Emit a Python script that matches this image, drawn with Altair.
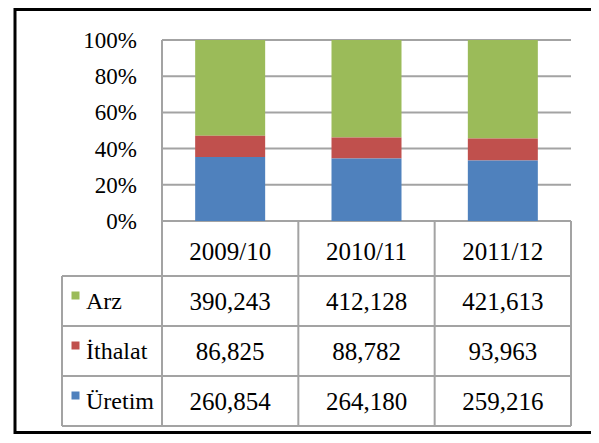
import altair as alt
import pandas as pd

# ---- data ----
categories = ["2009/10", "2010/11", "2011/12"]
series = ["Arz", "İthalat", "Üretim"]
arz = [390243, 412128, 421613]
ithalat = [86825, 88782, 93963]
uretim = [260854, 264180, 259216]
y_ticks = [0, 0.2, 0.4, 0.6, 0.8, 1.0]
colors = ["#9BBB59", "#C0504D", "#4F81BD"]

values = {"Arz": arz, "İthalat": ithalat, "Üretim": uretim}
stack_rank = {"Üretim": 0, "İthalat": 1, "Arz": 2}

# ---- layout constants (pixels) ----
W, H = 509, 386
LEG_PX = 100
COL_PX = (W - LEG_PX) / 3
BAR_PX = 70
PLOT_PX = 181
HEAD_PX = 55
ROW_PX = 50
TABLE_PX = HEAD_PX + 3 * ROW_PX
PAD = {"left": 54, "top": 32, "right": 20, "bottom": 8}

xl = -LEG_PX / COL_PX          # left edge of legend column (column units)
ybot = -TABLE_PX / PLOT_PX      # bottom of table (share units)
bw = BAR_PX / COL_PX
edges = [0, -HEAD_PX / PLOT_PX] + [-(HEAD_PX + k * ROW_PX) / PLOT_PX for k in (1, 2, 3)]
row_mid = {s: (edges[i + 1] + edges[i + 2]) / 2 for i, s in enumerate(series)}
head_mid = (edges[0] + edges[1]) / 2

FONT = "Liberation Serif, Times New Roman, serif"
LINE = "#a3a3a3"

xs = alt.Scale(domain=[xl, 3], nice=False, zero=False)
ys = alt.Scale(domain=[ybot, 1], nice=False, zero=False)
cs = alt.Scale(domain=series, range=colors)


def X(f):
    return alt.X(f, type="quantitative", scale=xs, axis=None, title=None)


def Y(f, axis=None):
    return alt.Y(f, type="quantitative", scale=ys, axis=axis, title=None)


# ---- frames ----
bars_rows, val_rows = [], []
for i, c in enumerate(categories):
    for s in series:
        bars_rows.append(dict(category=c, series=s, value=values[s][i],
                              x0=i + 0.5 - bw / 2, x1=i + 0.5 + bw / 2,
                              rank=stack_rank[s]))
        val_rows.append(dict(category=c, series=s, value=values[s][i],
                             x=i + 0.5, y=row_mid[s]))
bars_df = pd.DataFrame(bars_rows)
vals_df = pd.DataFrame(val_rows)
head_df = pd.DataFrame({"category": categories,
                        "x": [i + 0.5 for i in range(len(categories))],
                        "y": [head_mid] * len(categories)})
leg_df = pd.DataFrame({"series": series, "x": [xl] * len(series),
                       "y": [row_mid[s] for s in series]})
tick_df = pd.DataFrame({"t": y_ticks})

segs = []
for t in y_ticks[1:]:
    segs.append((0, 3, t, t))
segs.append((0, 3, 0, 0))
for e in edges[1:]:
    segs.append((xl, 3, e, e))
segs.append((xl, xl, edges[1], edges[-1]))
segs.append((0, 0, 1, edges[-1]))
for k in (1, 2, 3):
    segs.append((k, k, 0, edges[-1]))
rules_df = pd.DataFrame(segs, columns=["x", "x2", "y", "y2"])

# ---- layers ----
svg_h = PAD["top"] + H + PAD["bottom"]
frame = alt.Chart(pd.DataFrame({"a": [0]})).mark_rect(
    fillOpacity=0, stroke="black", strokeWidth=3
).encode(x=alt.value(-47), x2=alt.value(600),
         y=alt.value(-PAD["top"] + 1.5), y2=alt.value(svg_h - PAD["top"] - 1.5))

rules = alt.Chart(rules_df).mark_rule(color=LINE, strokeWidth=2).encode(
    x=X("x"), x2="x2", y=Y("y"), y2="y2")

bars = alt.Chart(bars_df).transform_stack(
    stack="value", groupby=["category"], as_=["s0", "s1"],
    offset="normalize", sort=[alt.SortField("rank", order="ascending")]
).mark_bar().encode(
    x=X("x0"), x2="x1",
    y=Y("s0"), y2="s1",
    color=alt.Color("series:N", scale=cs, legend=None),
)

# percentage tick labels, right-aligned 25px left of the plot's left edge
tick_text = alt.Chart(tick_df).transform_calculate(
    x="0", label="format(datum.t, '.0%')"
).mark_text(
    font=FONT, fontSize=23, color="black", align="right", baseline="middle", dx=-25, dy=1
).encode(x=X("x:Q"), y=Y("t"), text="label:N")

squares = alt.Chart(leg_df).mark_square(size=64, opacity=1, xOffset=13.5, yOffset=-5.5).encode(
    x=X("x"), y=Y("y"), color=alt.Color("series:N", scale=cs, legend=None))

leg_text = alt.Chart(leg_df).mark_text(
    font=FONT, fontSize=24, color="black", align="left", baseline="middle", dx=24, dy=1
).encode(x=X("x"), y=Y("y"), text="series:N")

head_text = alt.Chart(head_df).mark_text(
    font=FONT, fontSize=25, color="black", align="center", baseline="middle", dy=3
).encode(x=X("x"), y=Y("y"), text="category:N")

val_text = alt.Chart(vals_df).mark_text(
    font=FONT, fontSize=25, color="black", align="center", baseline="middle", dy=1
).encode(x=X("x"), y=Y("y"), text=alt.Text("value:Q", format=","))

chart = alt.layer(frame, rules, bars, tick_text, squares, leg_text, head_text, val_text).properties(
    width=W, height=H,
    padding=PAD,
    autosize=alt.AutoSizeParams(type="none"),
    background="white",
).configure_view(stroke=None)

chart.save("out.html", embed_options={"renderer": "svg", "actions": False})
